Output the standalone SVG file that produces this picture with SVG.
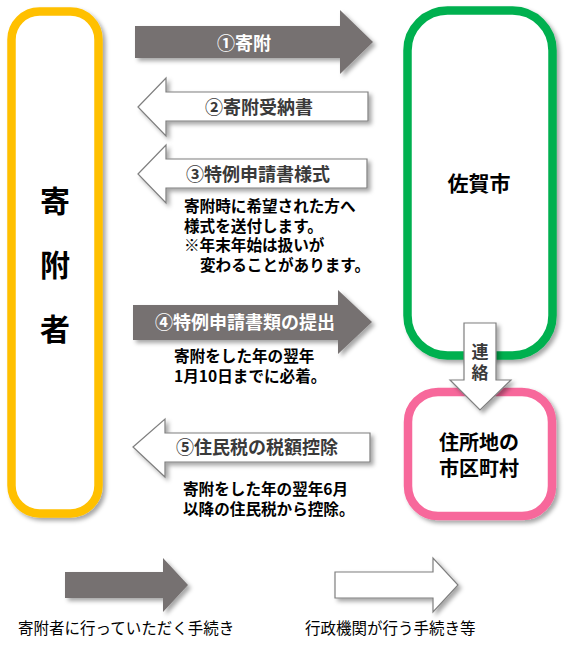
<svg xmlns="http://www.w3.org/2000/svg" width="569" height="645" viewBox="0 0 569 645">
<defs>
<filter id="sh" x="-20%" y="-20%" width="150%" height="150%">
<feDropShadow dx="3" dy="3" stdDeviation="2" flood-color="#000" flood-opacity="0.35"/>
</filter>
<style>
text{font-family:"Noto Sans CJK JP","Noto Sans",sans-serif;dominant-baseline:central}
.box{fill:#fff;stroke-width:8.5;filter:url(#sh)}
.big{font-size:30px;font-weight:bold;text-anchor:middle;fill:#000}
.nm{font-size:21px;font-weight:bold;text-anchor:middle;fill:#000}
.nm2{font-size:20px;font-weight:bold;text-anchor:middle;fill:#000}
.ga{fill:#767171;filter:url(#sh)}
.wa{fill:#fff;stroke:#7f7f7f;stroke-width:1.2;filter:url(#sh)}
.gl{font-size:18px;font-weight:bold;text-anchor:middle;fill:#fff}
.wl{font-size:18px;font-weight:bold;text-anchor:middle;fill:#3a3a3a}
.vl{font-size:17px;font-weight:bold;text-anchor:middle;fill:#3a3a3a}
.note{font-size:15.6px;font-weight:bold;fill:#000}
.leg{font-size:15.5px;fill:#000}
</style>
</defs>

<g id="donor">
<rect class="box" x="11.5" y="11.5" width="87" height="502" rx="28" stroke="#FFC000"/>
<text class="big" x="55" y="199">寄</text>
<text class="big" x="55" y="263">附</text>
<text class="big" x="55" y="327">者</text>
</g>

<g id="saga">
<rect class="box" x="407.5" y="10.5" width="145" height="345" rx="40" stroke="#00B050"/>
<text class="nm" x="479" y="182">佐賀市</text>
</g>

<g id="municipality">
<rect class="box" x="408" y="392" width="144" height="124" rx="30" stroke="#F7689B"/>
<text class="nm2" x="479" y="441">住所地の<tspan x="479" y="467">市区町村</tspan></text>
</g>

<g id="connectors">
<g id="a1">
<path class="ga" d="M135,26 H340 V10 L373,42 L340,74 V58 H135 Z"/>
<text class="gl" x="244" y="42">①寄附</text>
</g>
<g id="a2">
<path class="wa" d="M138,107 L166,78 V92 H368 V121 H166 V136 Z"/>
<text class="wl" x="259" y="106">②寄附受納書</text>
</g>
<g id="a3">
<path class="wa" d="M138,174 L166,145 V159 H367 V188 H166 V203 Z"/>
<text class="wl" x="258" y="173">③特例申請書様式</text>
</g>
<g id="a4">
<path class="ga" d="M133,305 H338 V290 L372,322 L338,354 V340 H133 Z"/>
<text class="gl" x="245" y="321">④特例申請書類の提出</text>
</g>
<g id="a5">
<path class="wa" d="M133,447 L165,419 V433 H370 V462 H165 V477 Z"/>
<text class="wl" x="257" y="446">⑤住民税の税額控除</text>
</g>
<g id="a6">
<path class="wa" d="M464,323 H496 V380 H511 L480,410 L450,380 H464 Z"/>
<text class="vl" x="480" y="350">連<tspan x="480" y="371">絡</tspan></text>
</g>
</g>

<g id="notes">
<text class="note" x="184" y="205">寄附時に希望された方へ<tspan x="184" y="225">様式を送付します。</tspan><tspan x="184" y="244">※年末年始は扱いが</tspan><tspan x="200" y="264">変わることがあります。</tspan></text>
<text class="note" x="174" y="355">寄附をした年の翌年<tspan x="174" y="375">1月10日までに必着。</tspan></text>
<text class="note" x="183" y="488">寄附をした年の翌年6月<tspan x="183" y="508">以降の住民税から控除。</tspan></text>
</g>

<g id="legend">
<path class="ga" d="M65,572 H163 V558 L188,585 L163,612 V598 H65 Z"/>
<text class="leg" x="18" y="627">寄附者に行っていただく手続き</text>
<path class="wa" d="M335,572 H433 V558 L458,585 L433,612 V598 H335 Z"/>
<text class="leg" x="305" y="627">行政機関が行う手続き等</text>
</g>
</svg>
